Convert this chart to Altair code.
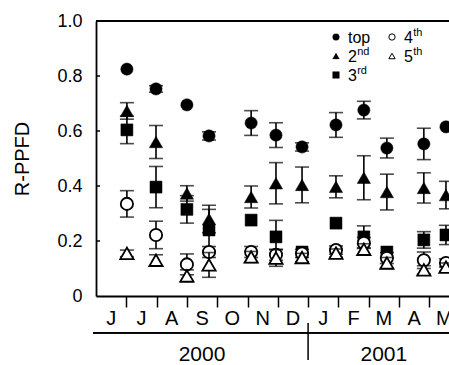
import altair as alt
import pandas as pd

# ---------------- data ----------------
months = ["J", "J", "A", "S", "O", "N", "D", "J", "F", "M", "A", "M"]
years = ["2000", "2001"]
year_pos = [3.5, 9.5]
# sampling dates, in months since 1 June 2000
t = [1.02, 1.98, 3.00, 3.73, 5.12, 5.94, 6.80, 7.92, 8.84, 9.60, 10.82, 11.55]

series = ["top", "2nd", "3rd", "4th", "5th"]
top_mean = [0.825, 0.753, 0.695, 0.582, 0.629, 0.585, 0.542, 0.622, 0.676, 0.538, 0.553, 0.615]
top_err = [0.0, 0.012, 0.0, 0.015, 0.045, 0.045, 0.015, 0.045, 0.032, 0.036, 0.057, 0.0]
sec_mean = [0.673, 0.560, 0.373, 0.280, 0.360, 0.410, 0.404, 0.397, 0.430, 0.378, 0.393, 0.367]
sec_err = [0.030, 0.060, 0.028, 0.050, 0.040, 0.075, 0.065, 0.040, 0.080, 0.065, 0.055, 0.050]
thr_mean = [0.604, 0.396, 0.315, 0.240, 0.276, 0.215, 0.160, 0.265, 0.215, 0.160, 0.204, 0.222]
thr_err = [0.050, 0.075, 0.050, 0.075, 0.0, 0.060, 0.0, 0.0, 0.040, 0.0, 0.030, 0.035]
fou_mean = [0.335, 0.222, 0.115, 0.160, 0.160, 0.150, 0.155, 0.167, 0.193, 0.138, 0.130, 0.120]
fou_err = [0.048, 0.050, 0.038, 0.020, 0.020, 0.020, 0.015, 0.015, 0.020, 0.020, 0.030, 0.015]
fif_mean = [0.155, 0.130, 0.073, 0.113, 0.142, 0.138, 0.140, 0.156, 0.170, 0.120, 0.095, 0.105]
fif_err = [0.012, 0.020, 0.022, 0.045, 0.020, 0.030, 0.015, 0.015, 0.020, 0.020, 0.015, 0.015]

y_ticks = [0.2, 0.4, 0.6, 0.8]
x_ticks = list(range(1, 12))

means = [top_mean, sec_mean, thr_mean, fou_mean, fif_mean]
errs = [top_err, sec_err, thr_err, fou_err, fif_err]

FONT = "Liberation Sans"
W, H = 353, 275

rows = []
for s, m, e in zip(series, means, errs):
    for ti, mi, ei in zip(t, m, e):
        rows.append({"t": ti, "series": s, "v": mi, "lo": mi - ei, "hi": mi + ei, "e": ei})
df = pd.DataFrame(rows)

xs = alt.Scale(domain=[0, W / 30.3], nice=False, zero=False)
ys = alt.Scale(domain=[0, 1], nice=False, zero=False)
xaxis = alt.Axis(values=x_ticks, labels=False, tickSize=11, tickWidth=1.5,
                 tickColor="black", domainColor="black", domainWidth=1.8,
                 grid=False, title=None)
yaxis = alt.Axis(values=[0, 0.2, 0.4, 0.6, 0.8, 1.0],
                 labelExpr="datum.value == 0 ? '0' : format(datum.value, '.1f')",
                 ticks=False, labelPadding=14, labelFontSize=18, labelFont=FONT,
                 labelColor="black", domainColor="black", domainWidth=1.8,
                 grid=False, title="R-PPFD", titleFont=FONT, titleFontSize=20,
                 titleFontWeight="normal", titleColor="black",
                 titleX=-74, titleY=H / 2, titleAlign="center",
                 titleBaseline="middle", titleAngle=270)

X = alt.X("t:Q", scale=xs, axis=xaxis)

shapes = {"top": ("circle", 150, True), "2nd": ("triangle-up", 175, True),
          "3rd": ("square", 144, True), "4th": ("circle", 150, False),
          "5th": ("triangle-up", 175, False)}

layers = []
for s in series:
    d = df[df["series"] == s]
    base = alt.Chart(d)
    bars = base.transform_filter("datum.e > 0")
    rule = bars.mark_rule(color="black", strokeWidth=1.6, clip=True).encode(
        x=X, y=alt.Y("lo:Q", scale=ys, axis=yaxis), y2="hi:Q")
    cap_lo = bars.mark_tick(orient="horizontal", color="black", size=14,
                            thickness=1.6, clip=True).encode(
        x=X, y=alt.Y("lo:Q", scale=ys, axis=yaxis))
    cap_hi = bars.mark_tick(orient="horizontal", color="black", size=14,
                            thickness=1.6, clip=True).encode(
        x=X, y=alt.Y("hi:Q", scale=ys, axis=yaxis))
    shp, size, filled = shapes[s]
    if filled:
        pt = base.mark_point(shape=shp, size=size, filled=True, fill="black",
                             stroke="black", strokeWidth=0.5, opacity=1, clip=True)
    else:
        pt = base.mark_point(shape=shp, size=size, filled=True, fill="white",
                             stroke="black", strokeWidth=1.8, opacity=1, clip=True)
    pt = pt.encode(x=X, y=alt.Y("v:Q", scale=ys, axis=yaxis))
    layers += [rule, cap_lo, cap_hi, pt]

# inward y ticks
ytick_df = pd.DataFrame({"v": y_ticks})
ytk = alt.Chart(ytick_df).mark_rule(color="black", strokeWidth=1.5).encode(
    x=alt.value(0), x2=alt.value(4), y=alt.Y("v:Q", scale=ys, axis=yaxis))

# top border
topline = alt.Chart(ytick_df).mark_rule(color="black", strokeWidth=1.8).encode(
    x=alt.value(0), x2=alt.value(W), y=alt.value(0))

# month labels
mdf = pd.DataFrame({"t": [i + 0.5 for i in range(len(months))], "lab": months})
mlab = alt.Chart(mdf).mark_text(font=FONT, fontSize=20, color="black",
                                baseline="alphabetic", align="center").encode(
    x=X, y=alt.value(304), text="lab:N")

# year axis
yline = alt.Chart(ytick_df).mark_rule(color="black", strokeWidth=1.5).encode(
    x=alt.value(-3), x2=alt.value(W), y=alt.value(311.7))
ydiv = alt.Chart(pd.DataFrame({"t": [7]})).mark_rule(color="black", strokeWidth=1.5).encode(
    x=X, y=alt.value(302), y2=alt.value(339))
ydf = pd.DataFrame({"t": year_pos, "lab": years})
ylab = alt.Chart(ydf).mark_text(font=FONT, fontSize=21, color="black",
                                baseline="alphabetic", align="center").encode(
    x=X, y=alt.value(340), text="lab:N")

# legend
leg = []
lx1, lx2 = 336 - 96, 392 - 96
ly = [37 - 21, 56 - 21, 75 - 21]
leg_items = [("top", "", lx1, ly[0], "circle", True),
             ("2", "nd", lx1, ly[1], "triangle-up", True),
             ("3", "rd", lx1, ly[2], "square", True),
             ("4", "th", lx2, ly[0], "circle", False),
             ("5", "th", lx2, ly[1], "triangle-up", False)]
for main, sup, lx, lyy, shp, filled in leg_items:
    src = alt.Chart(ytick_df.head(1))
    if filled:
        m = src.mark_point(shape=shp, size=45, filled=True, fill="black",
                           stroke="black", strokeWidth=0.3, opacity=1)
    else:
        m = src.mark_point(shape=shp, size=40, filled=True, fill="white",
                           stroke="black", strokeWidth=1, opacity=1)
    leg.append(m.encode(x=alt.value(lx), y=alt.value(lyy)))
    leg.append(src.mark_text(text=main, font=FONT, fontSize=16, color="black",
                             align="left", baseline="middle").encode(
        x=alt.value(lx + 12), y=alt.value(lyy + 1)))
    if sup:
        leg.append(src.mark_text(text=sup, font=FONT, fontSize=11, color="black",
                                 align="left", baseline="middle").encode(
            x=alt.value(lx + 12 + 9.2), y=alt.value(lyy - 4)))

chart = alt.layer(*([topline, ytk] + layers + [mlab, yline, ydiv, ylab] + leg)).properties(
    width=W, height=H,
    autosize=alt.AutoSizeParams(type="none"),
    padding={"left": 96, "top": 21, "right": 0, "bottom": 69},
).configure_view(stroke=None).configure(background="white")

chart.save("out.html", embed_options={"renderer": "svg", "actions": False})
